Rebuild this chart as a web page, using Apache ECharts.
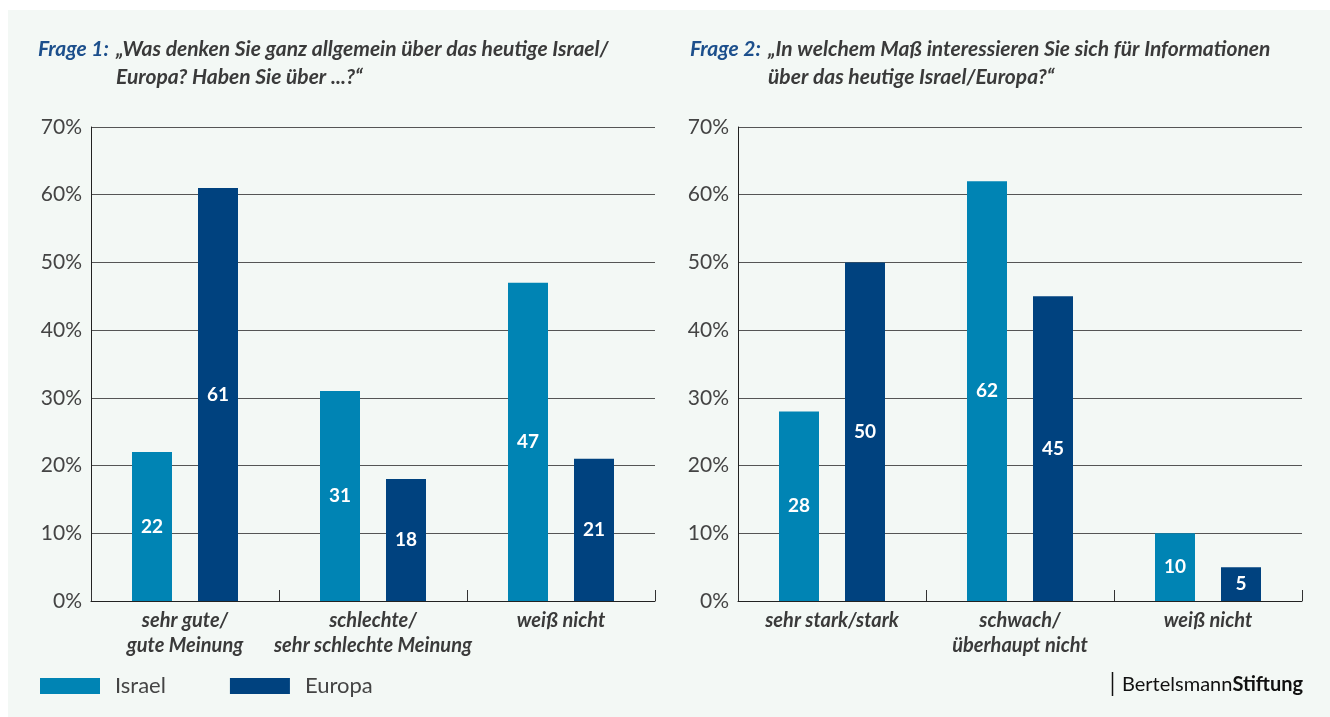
<!DOCTYPE html>
<html><head><meta charset="utf-8">
<script src="https://cdn.jsdelivr.net/npm/echarts@6/dist/echarts.min.js"></script>
<style>html,body{margin:0;padding:0;background:#fff;}#c{width:1330px;height:717px;}</style>
</head><body><div id="c"></div>
<script>
const categories1 = ['sehr gute/\ngute Meinung', 'schlechte/\nsehr schlechte Meinung', 'weiß nicht'];
const israel1 = [22, 31, 47];
const europa1 = [61, 18, 21];
const categories2 = ['sehr stark/stark', 'schwach/\nüberhaupt nicht', 'weiß nicht'];
const israel2 = [28, 62, 10];
const europa2 = [50, 45, 5];
const seriesNames = ['Israel', 'Europa'];
const yTicks = [0, 10, 20, 30, 40, 50, 60, 70];

const C_IS = '#0084b4', C_EU = '#00427f';
const FONT = 'Lato';
const chart = echarts.init(document.getElementById('c'), null, {renderer: 'canvas'});

function yAxis(i) {
  return {
    gridIndex: i, type: 'value', min: yTicks[0], max: yTicks[yTicks.length - 1], interval: 10,
    axisLine: {show: true, lineStyle: {color: '#222', width: 1}},
    axisTick: {show: false},
    axisLabel: {formatter: '{value}%', fontFamily: FONT, fontSize: 21, color: '#444', margin: 9},
    splitLine: {lineStyle: {color: '#555', width: 1}}
  };
}
function xAxis(i, cats) {
  return {
    gridIndex: i, type: 'category', data: cats,
    axisLine: {lineStyle: {color: '#222', width: 1}},
    axisTick: {show: true, inside: true, length: 11, lineStyle: {color: '#333'}},
    axisLabel: {fontFamily: FONT, fontSize: 20, fontWeight: 'bold', fontStyle: 'italic', color: '#3a3a3a', lineHeight: 25, margin: 7, interval: 0}
  };
}
const labelStyle = {show: true, position: 'inside', color: '#fff', fontFamily: FONT, fontWeight: 'bold', fontSize: 19};
function bar(name, data, idx, color) {
  return {name: name, type: 'bar', xAxisIndex: idx, yAxisIndex: idx, data: data, barWidth: 40, barGap: '65%',
    itemStyle: {color: color}, label: labelStyle};
}
const titleCommon = {fontFamily: FONT, fontSize: 21, fontWeight: 'bold', fontStyle: 'italic', lineHeight: 28};

chart.setOption({
  animation: false,
  backgroundColor: '#fff',
  graphic: [
    {type: 'rect', z: -10, shape: {x: 8, y: 10, width: 1322, height: 707}, style: {fill: '#f3f8f5'}},
    {type: 'line', shape: {x1: 1112.5, y1: 672, x2: 1112.5, y2: 696}, style: {stroke: '#111', lineWidth: 1.5}},
    {type: 'text', x: 1122, y: 685, style: {text: 'Bertelsmann{b|Stiftung}', fontFamily: FONT, fontSize: 20, fill: '#111', verticalAlign: 'middle',
      rich: {b: {fontFamily: FONT, fontSize: 20, fontWeight: 'bold', fill: '#111'}}}}
  ],
  title: [
    {text: 'Frage 1:', left: 38, top: 35, padding: 0, textStyle: Object.assign({}, titleCommon, {color: '#1c4f8c'})},
    {text: '„Was denken Sie ganz allgemein über das heutige Israel/\nEuropa? Haben Sie über ...?“', left: 116, top: 35, padding: 0, textStyle: Object.assign({}, titleCommon, {color: '#3a3a3a'})},
    {text: 'Frage 2:', left: 690, top: 35, padding: 0, textStyle: Object.assign({}, titleCommon, {color: '#1c4f8c'})},
    {text: '„In welchem Maß interessieren Sie sich für Informationen\nüber das heutige Israel/Europa?“', left: 768, top: 35, padding: 0, textStyle: Object.assign({}, titleCommon, {color: '#3a3a3a'})}
  ],
  legend: {
    data: seriesNames, left: 40, top: 675, padding: 0, itemWidth: 60, itemHeight: 16, itemGap: 64,
    icon: 'rect',
    textStyle: {fontFamily: FONT, fontSize: 22, color: '#444', padding: [0, 0, 0, 10]}
  },
  grid: [
    {left: 91, right: 675, top: 127, bottom: 116},
    {left: 738, right: 28, top: 127, bottom: 116}
  ],
  xAxis: [xAxis(0, categories1), xAxis(1, categories2)],
  yAxis: [yAxis(0), yAxis(1)],
  series: [
    bar(seriesNames[0], israel1, 0, C_IS),
    bar(seriesNames[1], europa1, 0, C_EU),
    bar(seriesNames[0], israel2, 1, C_IS),
    bar(seriesNames[1], europa2, 1, C_EU)
  ]
});
</script></body></html>
